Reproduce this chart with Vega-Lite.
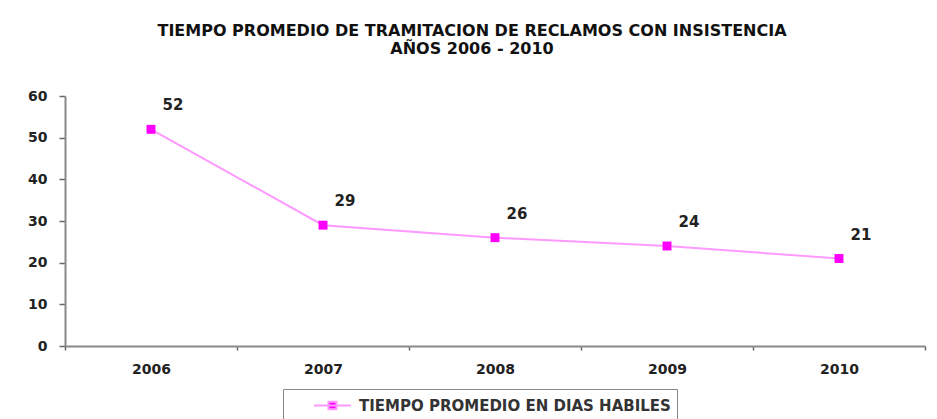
{
  "$schema": "https://vega.github.io/schema/vega-lite/v6.json",
  "width": 860,
  "height": 250,
  "autosize": {"type": "none"},
  "padding": {"left": 65, "top": 96, "right": 12, "bottom": 73},
  "background": "white",
  "title": {
    "text": ["TIEMPO PROMEDIO DE TRAMITACION DE RECLAMOS CON INSISTENCIA", "AÑOS 2006 - 2010"],
    "font": "DejaVu Sans",
    "fontSize": 16,
    "fontWeight": "bold",
    "color": "#111",
    "lineHeight": 18,
    "anchor": "middle",
    "frame": "group",
    "dx": -23,
    "offset": 32
  },
  "data": {
    "values": [
      {"anio": "2006", "dias": 52, "serie": "TIEMPO PROMEDIO EN DIAS HABILES"},
      {"anio": "2007", "dias": 29, "serie": "TIEMPO PROMEDIO EN DIAS HABILES"},
      {"anio": "2008", "dias": 26, "serie": "TIEMPO PROMEDIO EN DIAS HABILES"},
      {"anio": "2009", "dias": 24, "serie": "TIEMPO PROMEDIO EN DIAS HABILES"},
      {"anio": "2010", "dias": 21, "serie": "TIEMPO PROMEDIO EN DIAS HABILES"}
    ]
  },
  "encoding": {
    "x": {
      "field": "anio",
      "type": "ordinal",
      "title": null,
      "axis": {
        "labelAngle": 0,
        "tickBand": "extent",
        "tickSize": 4,
        "labelPadding": 12,
        "grid": false
      }
    },
    "y": {
      "field": "dias",
      "type": "quantitative",
      "title": null,
      "scale": {"domain": [0, 60], "nice": false},
      "axis": {
        "values": [0, 10, 20, 30, 40, 50, 60],
        "grid": false,
        "tickSize": 6,
        "labelPadding": 12
      }
    }
  },
  "layer": [
    {
      "mark": {"type": "line", "color": "#ff99ff", "strokeWidth": 2}
    },
    {
      "mark": {"type": "square", "filled": true, "opacity": 1, "size": 80},
      "encoding": {
        "color": {
          "field": "serie",
          "type": "nominal",
          "scale": {"range": ["#ff00ff"]},
          "legend": {
            "title": null,
            "orient": "none",
            "legendX": 218,
            "legendY": 293,
            "direction": "horizontal",
            "strokeColor": "#888888",
            "padding": 6,
            "symbolOffset": 33,
            "symbolType": "M-2,0H2M-0.43,-0.4H0.43V0.4H-0.43Z",
            "symbolSize": 342,
            "symbolStrokeColor": "#ff99ff",
            "symbolFillColor": "#ff00ff",
            "symbolStrokeWidth": 2,
            "labelFont": "DejaVu Sans",
            "labelFontSize": 15,
            "labelFontWeight": "bold",
            "labelColor": "#333",
            "labelOffset": 16,
            "labelLimit": 500,
            "encode": {"legend": {"update": {"strokeWidth": {"value": 2}}}}
          }
        }
      }
    },
    {
      "mark": {"type": "text", "dx": 22, "dy": -24, "font": "DejaVu Sans", "fontSize": 15, "fontWeight": "bold", "color": "#222"},
      "encoding": {"text": {"field": "dias", "type": "quantitative"}}
    }
  ],
  "config": {
    "view": {"stroke": null},
    "axis": {
      "domainColor": "#888888",
      "domainWidth": 2,
      "tickColor": "#666666",
      "tickWidth": 1.5,
      "labelFont": "DejaVu Sans",
      "labelFontSize": 14,
      "labelFontWeight": "bold",
      "labelColor": "#222"
    }
  }
}
